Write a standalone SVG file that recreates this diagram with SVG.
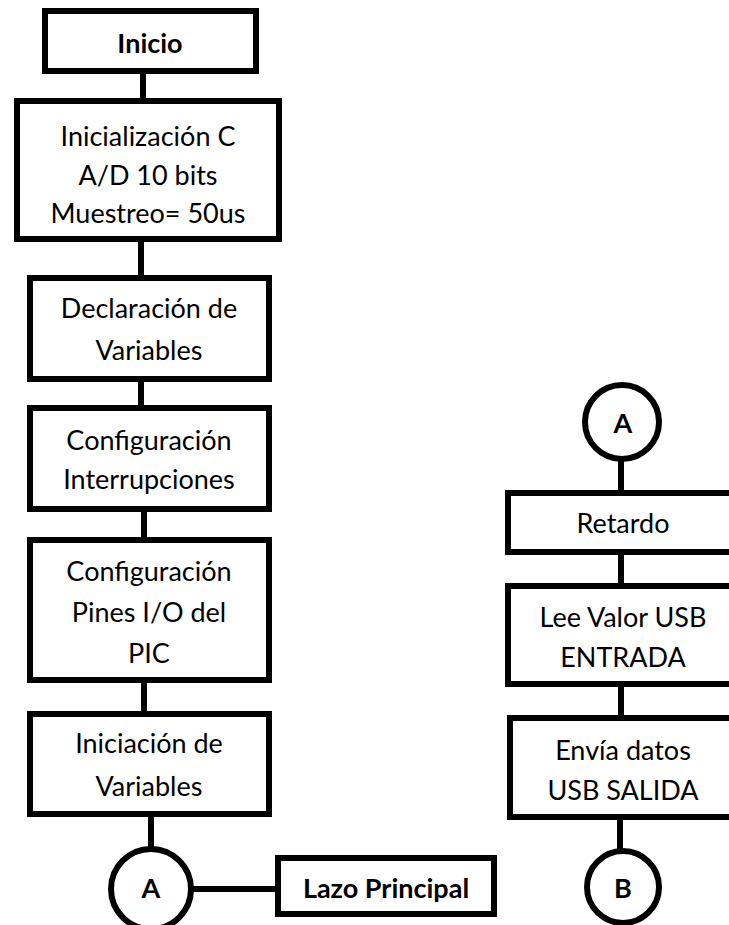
<svg xmlns="http://www.w3.org/2000/svg" width="729" height="925" viewBox="0 0 729 925">
<style>
.box{fill:#fff;stroke:#000;stroke-width:6}
.conn line{stroke:#000;stroke-width:6}
text{font-family:Lato,"Liberation Sans",sans-serif;font-size:27px;fill:#000;text-anchor:middle}
.b{font-weight:bold}
</style>
<rect width="729" height="925" fill="#fff"/>
<g id="connectors" class="conn">
<line x1="143" y1="72" x2="143" y2="100"/>
<line x1="141" y1="240" x2="141" y2="277"/>
<line x1="141" y1="380" x2="141" y2="407"/>
<line x1="144" y1="510" x2="144" y2="539"/>
<line x1="144" y1="681" x2="144" y2="713"/>
<line x1="151" y1="815" x2="151" y2="850"/>
<line x1="191" y1="889" x2="279" y2="889"/>
<line x1="621" y1="458" x2="621" y2="492"/>
<line x1="621" y1="553" x2="621" y2="585"/>
<line x1="621" y1="685" x2="621" y2="717"/>
<line x1="620" y1="818" x2="620" y2="852"/>
</g>
<g id="inicio"><rect class="box" x="45" y="11" width="211" height="60"/><text class="b" x="150" y="53">Inicio</text></g>
<g id="inicializacion"><rect class="box" x="17" y="101" width="262" height="138"/><text x="148" y="146">Inicialización C</text><text x="148" y="185">A/D 10 bits</text><text x="148" y="223">Muestreo= 50us</text></g>
<g id="declaracion"><rect class="box" x="30" y="278" width="239" height="101"/><text x="149" y="318">Declaración de</text><text x="149" y="360">Variables</text></g>
<g id="config-int"><rect class="box" x="30" y="408" width="239" height="101"/><text x="149" y="450">Configuración</text><text x="149" y="489">Interrupciones</text></g>
<g id="config-pines"><rect class="box" x="30" y="540" width="239" height="140"/><text x="149" y="581">Configuración</text><text x="149" y="622">Pines I/O del</text><text x="149" y="663">PIC</text></g>
<g id="iniciacion"><rect class="box" x="30" y="714" width="239" height="100"/><text x="149" y="753">Iniciación de</text><text x="149" y="796">Variables</text></g>
<g id="conector-a1"><circle class="box" cx="151" cy="889" r="40"/><text class="b" x="151" y="898">A</text></g>
<g id="lazo"><rect class="box" x="278" y="858" width="216" height="56"/><text class="b" x="386" y="898">Lazo Principal</text></g>
<g id="conector-a2"><circle class="box" cx="622" cy="422" r="37"/><text class="b" x="623" y="433">A</text></g>
<g id="retardo"><rect class="box" x="508" y="493" width="232" height="59"/><text x="623" y="533">Retardo</text></g>
<g id="lee"><rect class="box" x="508" y="586" width="232" height="98"/><text x="623" y="627">Lee Valor USB</text><text x="623" y="667">ENTRADA</text></g>
<g id="envia"><rect class="box" x="510" y="718" width="232" height="99"/><text x="623" y="760">Envía datos</text><text x="623" y="800">USB SALIDA</text></g>
<g id="conector-b"><circle class="box" cx="623" cy="887" r="36"/><text class="b" x="623" y="898">B</text></g>
</svg>
